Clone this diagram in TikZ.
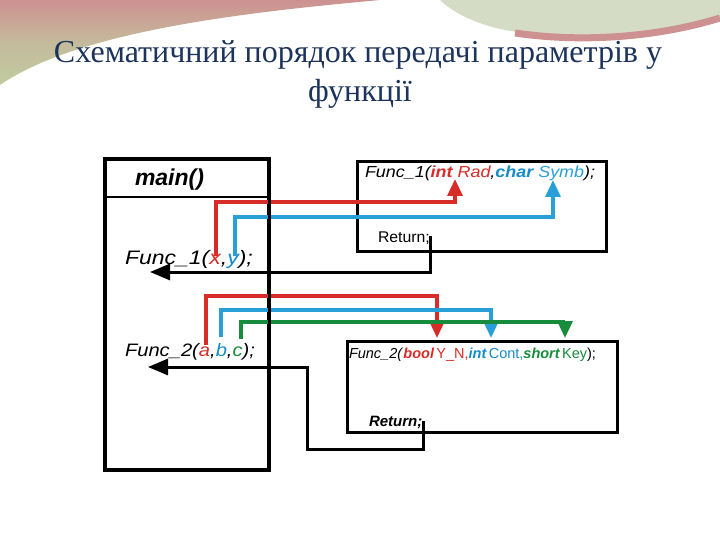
\documentclass[tikz,border=0pt]{standalone}
\usepackage{fontspec}
\usepackage{graphicx}
\setmainfont{Liberation Serif}
\newfontfamily\arialf{Liberation Sans}
\usetikzlibrary{arrows.meta}
\definecolor{cred}{RGB}{216,44,40}
\definecolor{cblue}{RGB}{20,140,200}
\definecolor{clblue}{RGB}{40,160,215}
\definecolor{cgreen}{RGB}{22,140,60}
\definecolor{ctitle}{RGB}{28,52,92}
\definecolor{bgpink}{RGB}{205,145,145}
\definecolor{bggreen}{RGB}{192,204,160}
\definecolor{bglight}{RGB}{212,220,198}
\newcommand{\myfs}[1]{\fontsize{#1pt}{#1pt}\selectfont}
\newcommand{\hsc}[2]{\scalebox{#1}[1]{#2}}
\tikzset{
  txt/.style={anchor=base west, inner sep=0pt, outer sep=0pt},
  boxnode/.style={draw=black, line width=2.8pt, anchor=north west, inner sep=0pt, fill=white},
  carrow/.style={-{Triangle[width=15pt,length=17pt]}, line width=3.2pt},
  barrow/.style={-{Triangle[width=16pt,length=20pt]}, line width=3pt, draw=black}
}
\begin{document}
\begin{tikzpicture}[x=1pt,y=-1pt]
\useasboundingbox (0,0) rectangle (720,540);
\fill[white] (0,0) rectangle (720,540);
% decoration
\shade[top color=bgpink, bottom color=bggreen, middle color=bggreen!70!bgpink]
  (0,0) -- (380,0) .. controls (250,12) and (80,30) .. (0,85) -- cycle;
\fill[bglight] (440,0) -- (720,0) -- (720,20) .. controls (650,38) and (560,40) .. (505,30) .. controls (475,24) and (452,12) .. (440,0) -- cycle;
\draw[line width=7pt, bgpink] (515,33) .. controls (590,44) and (665,35) .. (720,18);
% title
\node[font=\myfs{32}, text=ctitle, anchor=base, inner sep=0pt] (t1) at (358,63) {Схематичний порядок передачі параметрів у};
\node[font=\myfs{32}, text=ctitle, anchor=base, inner sep=0pt] (t2) at (360,102) {функції};
% function boxes
\node[boxnode, minimum width=249pt, minimum height=90pt] (f1) at (356,160) {};
\node[boxnode, minimum width=270pt, minimum height=91pt] (f2) at (346,340) {};
\node[txt, font=\arialf\myfs{16}\itshape] (f1t) at (365,178) {\hsc{1.12}{Func\_1(\textcolor{cred}{\bfseries int} \textcolor{cred}{Rad},\textcolor{cblue}{\bfseries char} \textcolor{clblue}{Symb});}};
\node[txt, font=\arialf\myfs{15.5}] (r1) at (378,243) {\hsc{1.02}{Return;}};
\node[txt, font=\arialf\myfs{14.5}] (f2t) at (349,358) {\textit{Func\_2(}\textcolor{cred}{\bfseries\itshape bool}\,\textcolor{cred}{Y\_N,}\textcolor{cblue}{\bfseries\itshape int}\,\textcolor{cblue}{Cont,}\textcolor{cgreen}{\bfseries\itshape short}\,\textcolor{cgreen}{Key});};
\node[txt, font=\arialf\myfs{15}\bfseries\itshape] (r2) at (369,426) {Return;};
% main box
\node[boxnode, fill=none, minimum width=163pt, minimum height=310pt] (mainb) at (104,158) {};
\coordinate (hl) at (104,197);
\coordinate (hr) at (267,197);
\node[txt, font=\arialf\myfs{23}\bfseries\itshape] (maint) at (135,186) {main()};
\node[txt, font=\arialf\myfs{19.5}\itshape] (c1) at (125,264) {\hsc{1.18}{Func\_1(\textcolor{cred}{x},\textcolor{cblue}{y});}};
\node[txt, font=\arialf\myfs{18}\itshape] (c2) at (125,356) {\hsc{1.12}{Func\_2(\textcolor{cred}{a},\textcolor{cblue}{b},\textcolor{cgreen}{c});}};
% connector coordinates
\coordinate (ra1) at (216,256); \coordinate (rk1) at (455,202); \coordinate (rt1) at (455,179);
\coordinate (ba1) at (235,256); \coordinate (bk1) at (553,217); \coordinate (bt1) at (553,180);
\coordinate (ra2) at (206,345); \coordinate (rk2) at (437,296); \coordinate (rt2) at (437,338);
\coordinate (ba2) at (221,337); \coordinate (bk2) at (491,310); \coordinate (bt2) at (491,338);
\coordinate (ga2) at (241,339); \coordinate (gk2) at (565,322); \coordinate (gt2) at (565,338);
% colored connectors
\draw[carrow, cred] (ra1) |- (rk1) -- (rt1);
\draw[carrow, clblue] (ba1) |- (bk1) -- (bt1);
\draw[carrow, cred] (ra2) |- (rk2) -- (rt2);
\draw[carrow, clblue] (ba2) |- (bk2) -- (bt2);
\draw[carrow, cgreen] (ga2) |- (gk2) -- (gt2);
% main box border on top
\draw[line width=2.8pt] (mainb.north west) rectangle (mainb.south east);
\draw[line width=2.8pt] (hl) -- (hr);
% return connectors
\coordinate (q1) at (430,236); \coordinate (q1b) at (430,272); \coordinate (q1e) at (150,272);
\draw[barrow, line join=miter] (q1) -- (q1b) -- (q1e);
\coordinate (q2) at (423,421); \coordinate (q2b) at (423,449); \coordinate (q2c) at (307,449); \coordinate (q2d) at (307,367); \coordinate (q2e) at (148,367);
\draw[barrow, line join=miter] (q2) -- (q2b) -- (q2c) -- (q2d) -- (q2e);
\end{tikzpicture}
\end{document}
